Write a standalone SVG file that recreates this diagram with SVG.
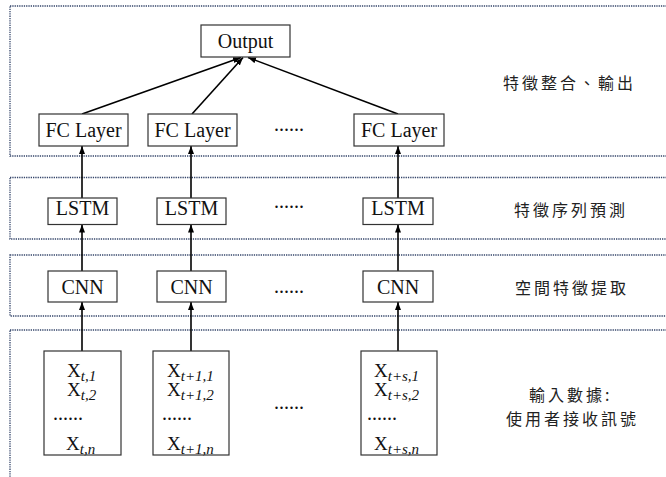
<svg xmlns="http://www.w3.org/2000/svg" width="666" height="477" viewBox="0 0 666 477">
  <defs>
    <marker id="arrow" viewBox="0 0 8 6" refX="8" refY="3" markerWidth="8" markerHeight="6" markerUnits="userSpaceOnUse" orient="auto">
      <path d="M0,0 L8,3 L0,6 z" fill="#000"/>
    </marker>
    <style>
      .frame { fill: none; stroke: #34456a; stroke-width: 1.3; stroke-dasharray: 1.3 1; }
      .box { fill: #fff; stroke: #333; stroke-width: 1.2; }
      .lbl { font-size: 20px; fill: #111; text-anchor: middle; }
      .dots { font-size: 20px; fill: #111; }
      .x { font-size: 19px; fill: #111; }
      .sub { font-style: italic; font-size: 15px; }
      .cjk { font-family: 'Noto Sans CJK TC', sans-serif; font-size: 16px; letter-spacing: 3px; fill: #222; }
      .edge { stroke: #000; stroke-width: 1.6; fill: none; marker-end: url(#arrow); }
    </style>
  </defs>
  <rect width="666" height="477" fill="#fff"/>

  <!-- stage frames -->
  <g id="frames">
    <rect class="frame" x="10" y="6" width="680" height="150"/>
    <rect class="frame" x="10" y="177.5" width="680" height="61.5"/>
    <rect class="frame" x="10" y="255" width="680" height="61"/>
    <rect class="frame" x="10" y="330" width="680" height="180"/>
  </g>

  <!-- stage captions -->
  <g id="captions">
    <text class="cjk" x="503" y="89">特徵整合、輸出</text>
    <text class="cjk" x="514" y="216">特徵序列預測</text>
    <text class="cjk" x="515" y="294">空間特徵提取</text>
    <text class="cjk" x="529" y="401">輸入數據:</text>
    <text class="cjk" x="506" y="425">使用者接收訊號</text>
  </g>

  <!-- connectors -->
  <g id="connectors">
    <line class="edge" x1="82" y1="114" x2="241" y2="57.5"/>
    <line class="edge" x1="192" y1="114" x2="243" y2="57.5"/>
    <line class="edge" x1="398" y1="114" x2="248" y2="57.5"/>
    <line class="edge" x1="82" y1="198" x2="82" y2="146"/>
    <line class="edge" x1="191" y1="198" x2="191" y2="146"/>
    <line class="edge" x1="398" y1="198" x2="398" y2="146"/>
    <line class="edge" x1="82" y1="271" x2="82" y2="224.5"/>
    <line class="edge" x1="191" y1="271" x2="191" y2="224.5"/>
    <line class="edge" x1="398" y1="271" x2="398" y2="224.5"/>
    <line class="edge" x1="82" y1="351" x2="82" y2="302"/>
    <line class="edge" x1="191" y1="351" x2="191" y2="302"/>
    <line class="edge" x1="398" y1="351" x2="398" y2="302"/>
  </g>

  <g font-family="Liberation Serif, DejaVu Serif, serif">
  <g id="output">
    <rect class="box" x="201" y="25" width="89" height="32"/>
    <text class="lbl" x="245.5" y="47.5">Output</text>
  </g>

  <g id="fc1">
    <rect class="box" x="39" y="114" width="89" height="32"/>
    <text class="lbl" x="83.5" y="137">FC Layer</text>
  </g>
  <g id="fc2">
    <rect class="box" x="148" y="114" width="89" height="32"/>
    <text class="lbl" x="192.5" y="137">FC Layer</text>
  </g>
  <g id="fc3">
    <rect class="box" x="354" y="114" width="90" height="32"/>
    <text class="lbl" x="399" y="137">FC Layer</text>
  </g>

  <g id="lstm1">
    <rect class="box" x="48" y="198" width="69" height="26.5"/>
    <text class="lbl" x="82.5" y="214.5">LSTM</text>
  </g>
  <g id="lstm2">
    <rect class="box" x="157" y="198" width="69" height="26.5"/>
    <text class="lbl" x="191.5" y="214.5">LSTM</text>
  </g>
  <g id="lstm3">
    <rect class="box" x="363" y="198" width="70" height="26.5"/>
    <text class="lbl" x="398" y="214.5">LSTM</text>
  </g>

  <g id="cnn1">
    <rect class="box" x="48" y="271" width="69" height="31"/>
    <text class="lbl" x="82.5" y="294">CNN</text>
  </g>
  <g id="cnn2">
    <rect class="box" x="157" y="271" width="69" height="31"/>
    <text class="lbl" x="191.5" y="294">CNN</text>
  </g>
  <g id="cnn3">
    <rect class="box" x="363" y="271" width="70" height="31"/>
    <text class="lbl" x="398" y="294">CNN</text>
  </g>

  <g id="input1">
    <rect class="box" x="44" y="351" width="77" height="104"/>
    <text class="x" x="67" y="377">X<tspan class="sub" dy="4">t,1</tspan></text>
    <text class="x" x="67" y="396">X<tspan class="sub" dy="4">t,2</tspan></text>
    <text class="dots" x="53" y="420">......</text>
    <text class="x" x="66" y="450">X<tspan class="sub" dy="4">t,n</tspan></text>
  </g>
  <g id="input2">
    <rect class="box" x="153" y="351" width="76" height="104"/>
    <text class="x" x="167" y="377">X<tspan class="sub" dy="4">t+1,1</tspan></text>
    <text class="x" x="167" y="396">X<tspan class="sub" dy="4">t+1,2</tspan></text>
    <text class="dots" x="162" y="420">......</text>
    <text class="x" x="167" y="450">X<tspan class="sub" dy="4">t+1,n</tspan></text>
  </g>
  <g id="input3">
    <rect class="box" x="361" y="351" width="76" height="104"/>
    <text class="x" x="374" y="377">X<tspan class="sub" dy="4">t+s,1</tspan></text>
    <text class="x" x="374" y="396">X<tspan class="sub" dy="4">t+s,2</tspan></text>
    <text class="dots" x="367" y="420">......</text>
    <text class="x" x="374" y="450">X<tspan class="sub" dy="4">t+s,n</tspan></text>
  </g>

  <!-- ellipses between columns -->
  <g id="gaps">
    <text class="dots" x="274" y="131">......</text>
    <text class="dots" x="274" y="208">......</text>
    <text class="dots" x="274" y="293">......</text>
    <text class="dots" x="274" y="409">......</text>
  </g>
  </g>
</svg>
